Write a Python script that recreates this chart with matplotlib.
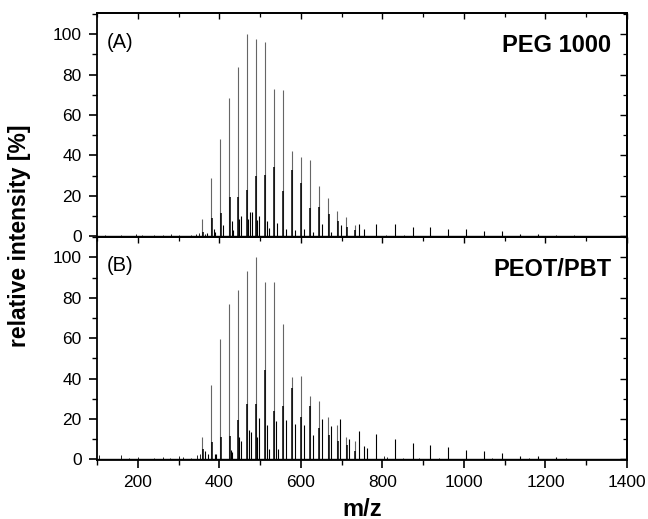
import matplotlib
matplotlib.use("Agg")
import matplotlib.pyplot as plt
from matplotlib.ticker import MultipleLocator

plt.rcParams['font.family'] = ['Liberation Sans', 'DejaVu Sans']

# ---------------- data ----------------
# Panel A: PEG 1000
peg_main_mz = [358, 380, 402, 424, 446, 468, 490, 512, 534, 556, 578, 600,
               622, 644, 667, 689, 711, 733]
peg_main_int = [8.7, 28.8, 48, 68.4, 83.6, 100, 97.5, 95.9, 72.9, 72.2, 41.9, 39,
                37.5, 25, 18.9, 12.5, 9.5, 5.4]
peg_iso_int = [2, 9, 11.5, 19.4, 19.4, 23, 30, 30.4, 34, 22.2, 32.6, 26.2,
               14, 14.5, 10.7, 7.7, 4.5, 3]
peg_minor_mz = [370, 386, 390, 409, 430, 434, 449, 453, 471, 475, 479, 493, 497,
                518, 523, 541, 563, 585, 607, 629, 651, 673, 698, 742, 754, 785,
                830, 874, 918, 962, 1006, 1050, 1094, 1138, 1182]
peg_minor_int = [1.6, 3.6, 2, 5.3, 7.4, 3, 8.7, 9.9, 8.5, 11.8, 11.8, 7.9, 10.2,
                 7.4, 4, 6.6, 3.6, 2.8, 3.3, 2.1, 5.8, 2, 5.3, 6.1, 3.6, 5.8,
                 6.2, 4.6, 4.3, 3.3, 3.3, 2.5, 2.6, 1.2, 0.8]
peg_noise_mz = [120, 160, 196, 210, 240, 262, 282, 300, 330, 344, 350, 366,
                808, 852, 1226, 1270]
peg_noise_int = [0.3, 0.4, 0.9, 0.5, 0.4, 0.3, 0.8, 0.3, 0.5, 1.0, 1.5, 1.2,
                 0.6, 0.4, 0.5, 0.3]

# Panel B: PEOT/PBT
pbt_main_mz = [358, 380, 402, 424, 446, 468, 490, 512, 534, 556, 578, 600,
               622, 644, 667, 689, 711, 733]
pbt_main_int = [11, 37, 59.7, 77, 83.8, 93.3, 100, 87.7, 87.7, 67, 40.6, 41.3,
                31.3, 29.1, 21.2, 17.1, 10.9, 9.2]
pbt_iso_int = [5, 8.7, 11, 11.5, 19.7, 27.6, 27.6, 44.4, 23.8, 26.3, 35.4, 20.9,
               26.3, 15.6, 12.3, 9, 7, 4]
pbt_minor_mz = [365, 372, 389, 393, 429, 431, 449, 453, 474, 478, 493, 497, 518,
                523, 540, 545, 563, 585, 607, 629, 651, 673, 696, 719, 742, 754,
                762, 785, 830, 874, 918, 962, 1006, 1050, 1094, 1138, 1182, 1226]
pbt_minor_int = [4, 2.5, 2.5, 2.5, 4.5, 3.5, 11.3, 9, 14.6, 13.8, 11, 20.5, 17,
                 5, 19, 5, 19.5, 17.3, 17, 12, 20.2, 16.4, 20.2, 10.2, 14.1, 6.6,
                 5.6, 12.8, 9.9, 8.2, 7.1, 6.3, 4.6, 4.4, 3.3, 1.6, 1.5, 1.0]
pbt_noise_mz = [104, 160, 178, 200, 240, 262, 280, 301, 310, 330, 345, 352,
                805, 812, 850, 890, 940, 1070, 1160, 1250, 1300]
pbt_noise_int = [2, 2, 0.8, 1, 0.7, 1, 0.8, 1.8, 1, 0.7, 2, 2.5,
                 1.5, 1.2, 0.8, 0.6, 0.5, 0.8, 0.5, 0.5, 0.4]

x_ticks = [200, 400, 600, 800, 1000, 1200, 1400]
y_ticks = [0, 20, 40, 60, 80, 100]

panels = [
    ("(A)", "PEG 1000", peg_main_mz, peg_main_int, peg_iso_int,
     peg_minor_mz, peg_minor_int, peg_noise_mz, peg_noise_int),
    ("(B)", "PEOT/PBT", pbt_main_mz, pbt_main_int, pbt_iso_int,
     pbt_minor_mz, pbt_minor_int, pbt_noise_mz, pbt_noise_int),
]

# ---------------- figure ----------------
fig = plt.figure(figsize=(6.48, 5.19), dpi=100)
left, width = 97 / 648, (627 - 97) / 648
h = (460 - 236.7) / 519
rects = [[left, 1 - 236.7 / 519, width, h], [left, 1 - 460 / 519, width, h]]

for i, (tag, name, mm, mi, ii, nm, ni, zm, zi) in enumerate(panels):
    ax = fig.add_axes(rects[i])
    ax.vlines(mm, 0, mi, color='0.4', lw=0.8)
    ax.vlines([m + 1.0 for m in mm], 0, ii, color='black', lw=1.1)
    ax.vlines(nm, 0, ni, color='black', lw=0.8)
    ax.vlines(zm, 0, zi, color='black', lw=0.6)
    ax.axhline(0, color='black', lw=1.0)
    ax.set_xlim(100, 1400)
    ax.set_ylim(-0.3, 110.3)
    ax.set_yticks(y_ticks)
    ax.yaxis.set_minor_locator(MultipleLocator(10))
    ax.set_xticks(x_ticks)
    ax.xaxis.set_minor_locator(MultipleLocator(100))
    ax.tick_params(axis='both', which='major', labelsize=12.5, length=6, width=1.2,
                   direction='out', pad=5)
    ax.tick_params(axis='both', which='minor', length=3.5, width=1.0, direction='out')
    for sp in ax.spines.values():
        sp.set_linewidth(1.3)
    if i == 0:
        ax.tick_params(axis='x', which='both', labelbottom=False)

    # mirrored ticks pointing inward on the right and top
    sy = ax.secondary_yaxis('right')
    sy.set_yticks(y_ticks)
    sy.yaxis.set_minor_locator(MultipleLocator(10))
    sy.tick_params(which='major', direction='in', length=5, width=1.0, labelright=False)
    sy.tick_params(which='minor', direction='in', length=3, width=0.9)
    sy.spines['right'].set_linewidth(1.3)
    sx = ax.secondary_xaxis('top')
    sx.set_xticks(x_ticks)
    sx.xaxis.set_minor_locator(MultipleLocator(100))
    sx.tick_params(which='major', direction='in', length=4, width=1.0, labeltop=False)
    sx.tick_params(which='minor', direction='in', length=3, width=0.9)
    sx.spines['top'].set_linewidth(1.3)

    ax.text(123, 96, tag, fontsize=14.5, ha='left', va='center')
    ax.text(1362, 94.3, name, fontsize=17, fontweight='bold', ha='right', va='center')

fig.text(362 / 648, 1 - 509 / 519, 'm/z', fontsize=17, fontweight='bold',
         ha='center', va='center')
fig.text(20 / 648, 1 - 236 / 519, 'relative intensity [%]', rotation=90,
         fontsize=16.5, fontweight='bold', ha='center', va='center')

fig.savefig('out.png', dpi=100)
